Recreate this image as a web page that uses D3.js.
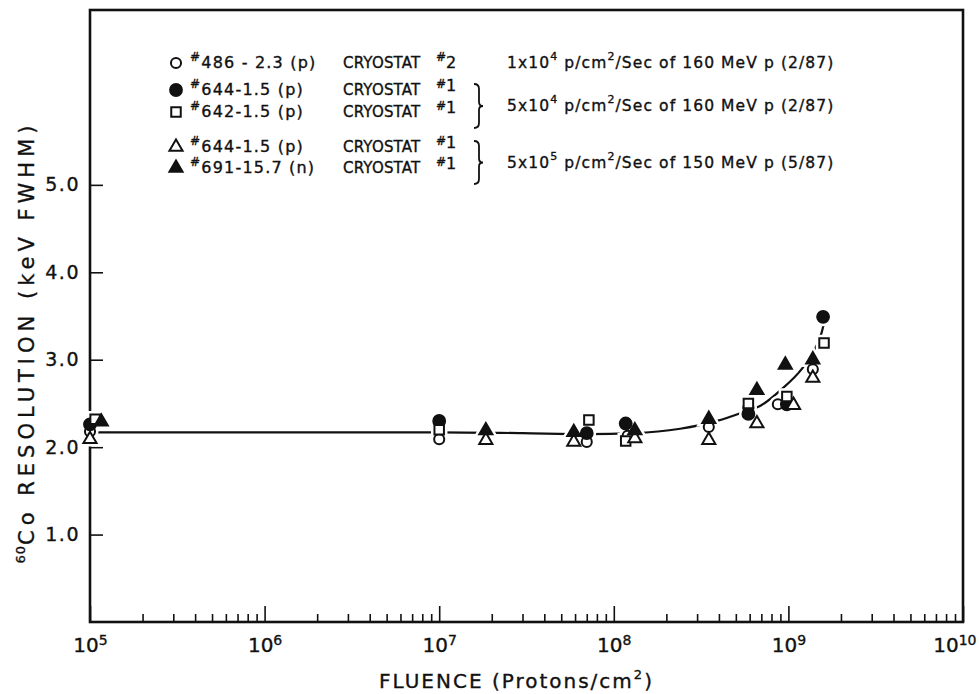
<!DOCTYPE html>
<html>
<head>
<meta charset="utf-8">
<script src="https://cdn.jsdelivr.net/npm/d3@7"></script>
<style>
  body { margin: 0; background: #fff; }
  text { font-family: "DejaVu Sans", sans-serif; fill: #111; stroke: #111; stroke-width: 0.35px; }
</style>
</head>
<body>
<div id="chart"></div>
<script>
// decades on the fluence axis and resolution ticks
const xDecades = [5, 6, 7, 8, 9, 10];
const yTickValues = [1, 2, 3, 4, 5];
const yTickLabels = ["1.0", "2.0", "3.0", "4.0", "5.0"];

// [fluence, resolution keV FWHM]
const det486 = [[1e5, 2.18], [1e7, 2.09], [7e7, 2.06], [1.2e8, 2.13], [3.5e8, 2.23], [5.9e8, 2.45], [8.7e8, 2.49], [1.38e9, 2.89]];
const det644a = [[1e5, 2.26], [1e7, 2.30], [7e7, 2.16], [1.17e8, 2.27], [5.9e8, 2.38], [9.8e8, 2.49], [1.58e9, 3.49]];
const det642 = [[1.07e5, 2.32], [1e7, 2.20], [7.2e7, 2.31], [1.17e8, 2.07], [5.9e8, 2.50], [9.8e8, 2.58], [1.6e9, 3.19]];
const det644b = [[1e5, 2.09], [1.85e7, 2.08], [5.9e7, 2.06], [1.32e8, 2.10], [3.5e8, 2.08], [6.6e8, 2.27], [1.07e9, 2.48], [1.38e9, 2.79]];
const det691 = [[1.16e5, 2.29], [1.85e7, 2.19], [5.9e7, 2.17], [1.32e8, 2.19], [3.5e8, 2.32], [6.6e8, 2.65], [9.6e8, 2.94], [1.38e9, 3.00]];

// hand drawn trend line
const trend = [[1e5, 2.17], [1e7, 2.17], [3e7, 2.16], [7e7, 2.15], [1.3e8, 2.16], [2.4e8, 2.21], [3.9e8, 2.30],
               [5.5e8, 2.40], [7e8, 2.48], [9e8, 2.65], [1.2e9, 2.90], [1.4e9, 3.10], [1.55e9, 3.31], [1.6e9, 3.42]];

const legendIds = ["486 - 2.3 (p)", "644-1.5  (p)", "642-1.5  (p)", "644-1.5  (p)", "691-15.7  (n)"];
const legendCryostat = ["2", "1", "1", "1", "1"];
const fluxMantissa = ["1x10", "5x10", "5x10"];
const fluxExponent = ["4", "4", "5"];
const fluxRest = ["160 MeV p (2/87)", "160 MeV p (2/87)", "150 MeV p (5/87)"];

const series = [
  { data: det486, shape: "circle", filled: false },
  { data: det644a, shape: "circle", filled: true },
  { data: det642, shape: "square", filled: false },
  { data: det644b, shape: "triangle", filled: false },
  { data: det691, shape: "triangle", filled: true }
];

const W = 979, H = 694;
const margin = { top: 10, right: 16, bottom: 72, left: 90 };
const width = W - margin.left - margin.right;
const height = H - margin.top - margin.bottom;

const svg = d3.select("#chart").append("svg")
  .attr("width", W).attr("height", H);
const g = svg.append("g").attr("transform", `translate(${margin.left},${margin.top})`);

const x = d3.scaleLog().domain([1e5, 1e10]).range([0, width]);
const y = d3.scaleLinear().domain([0, 7]).range([height, 0]);

// minor ticks
const minor = [];
xDecades.slice(0, -1).forEach(e => { for (let k = 2; k <= 9; k++) minor.push(k * Math.pow(10, e)); });
g.append("g")
  .attr("transform", `translate(0,${height})`)
  .call(d3.axisBottom(x).tickValues(minor).tickSize(-8).tickFormat(""))
  .call(a => a.select(".domain").remove())
  .call(a => a.selectAll("line").attr("stroke", "#111").attr("stroke-width", 1.6));

// major ticks with 10^n labels
const xAxis = g.append("g")
  .attr("transform", `translate(0,${height})`)
  .call(d3.axisBottom(x).tickValues(xDecades.map(e => Math.pow(10, e))).tickSize(-16).tickPadding(16));
xAxis.select(".domain").remove();
xAxis.selectAll("line").attr("stroke", "#111").attr("stroke-width", 1.6);
xAxis.selectAll("text")
  .attr("font-size", 20)
  .attr("font-family", "DejaVu Sans")
  .attr("fill", "#111")
  .each(function(d, i, nodes) {
    const t = d3.select(this).text(null);
    if (i === nodes.length - 1) t.attr("text-anchor", "end").attr("x", 13);
    t.append("tspan").text("10");
    t.append("tspan").attr("dy", "-0.55em").attr("font-size", 14).text(Math.round(Math.log10(d)));
  });

const yAxis = g.append("g")
  .call(d3.axisLeft(y).tickValues(yTickValues).tickSize(-13).tickPadding(10)
    .tickFormat((d, i) => yTickLabels[i]));
yAxis.select(".domain").remove();
yAxis.selectAll("line").attr("stroke", "#111").attr("stroke-width", 1.6);
yAxis.selectAll("text").attr("font-size", 19).attr("letter-spacing", 1.5)
  .attr("font-family", "DejaVu Sans").attr("fill", "#111");

// frame
g.append("rect")
  .attr("width", width).attr("height", height)
  .attr("fill", "none").attr("stroke", "#111").attr("stroke-width", 2.6);

// trend curve
const line = d3.line()
  .x(d => x(d[0]))
  .y(d => y(d[1]))
  .curve(d3.curveMonotoneX);
g.append("path")
  .datum(trend)
  .attr("fill", "none")
  .attr("stroke", "#111")
  .attr("stroke-width", 2.2)
  .attr("d", line);

function symbolPath(shape, filled) {
  if (shape === "circle") return d3.symbol(d3.symbolCircle, filled ? 110 : 80)();
  if (shape === "square") return d3.symbol(d3.symbolSquare, 90)();
  return d3.symbol(d3.symbolTriangle, 75)();
}

// white halo so the curve breaks around markers
series.forEach(s => {
  g.selectAll(null).data(s.data).enter().append("path")
    .attr("transform", d => `translate(${x(d[0])},${y(d[1])})`)
    .attr("d", symbolPath(s.shape, s.filled))
    .attr("fill", "#fff").attr("stroke", "#fff").attr("stroke-width", 7);
});
series.forEach(s => {
  g.selectAll(null).data(s.data).enter().append("path")
    .attr("transform", d => `translate(${x(d[0])},${y(d[1])})`)
    .attr("d", symbolPath(s.shape, s.filled))
    .attr("fill", s.filled ? "#111" : "#fff")
    .attr("stroke", "#111").attr("stroke-width", 2);
});

// legend
const legendRowY = [68, 95, 117, 152, 173];
const legend = svg.append("g");
series.forEach((s, i) => {
  const ry = legendRowY[i];
  legend.append("path")
    .attr("transform", `translate(176,${ry - 5})`)
    .attr("d", symbolPath(s.shape, s.filled))
    .attr("fill", s.filled ? "#111" : "#fff")
    .attr("stroke", "#111").attr("stroke-width", 2);
  const t = legend.append("text")
    .attr("x", 190).attr("y", ry)
    .attr("font-size", 16).attr("letter-spacing", 1.2);
  t.append("tspan").attr("dy", -7).attr("font-size", 12).text("#");
  t.append("tspan").attr("dy", 7).text(legendIds[i]);
  legend.append("text")
    .attr("x", 343).attr("y", ry)
    .attr("font-size", 15).attr("letter-spacing", 0.2)
    .text("CRYOSTAT");
  const c = legend.append("text")
    .attr("x", 436).attr("y", ry)
    .attr("font-size", 16);
  c.append("tspan").attr("dy", -7).attr("font-size", 12).text("#");
  c.append("tspan").attr("dy", i === 0 ? 7 : 3).text(legendCryostat[i]);
});

// braces
function brace(x0, y0, y1) {
  const m = (y0 + y1) / 2;
  return `M${x0},${y0} Q${x0 + 5},${y0} ${x0 + 5},${y0 + 5} L${x0 + 5},${m - 4} Q${x0 + 5},${m} ${x0 + 9},${m}` +
         ` Q${x0 + 5},${m} ${x0 + 5},${m + 4} L${x0 + 5},${y1 - 5} Q${x0 + 5},${y1} ${x0},${y1}`;
}
[[84, 128], [141, 184]].forEach(b => {
  legend.append("path").attr("d", brace(474, b[0], b[1]))
    .attr("fill", "none").attr("stroke", "#111").attr("stroke-width", 1.8);
});

const fluxY = [68, 111, 168];
fluxMantissa.forEach((m, i) => {
  const t = legend.append("text")
    .attr("x", 507).attr("y", fluxY[i])
    .attr("font-size", 15.5).attr("letter-spacing", 1.1);
  t.append("tspan").text(m);
  t.append("tspan").attr("dy", -8).attr("font-size", 11).text(fluxExponent[i]);
  t.append("tspan").attr("dy", 8).text("  p/cm");
  t.append("tspan").attr("dy", -8).attr("font-size", 11).text("2");
  t.append("tspan").attr("dy", 8).text("/Sec of " + fluxRest[i]);
});

// axis titles
const xt = svg.append("text")
  .attr("x", margin.left + width / 2 - 10).attr("y", 688)
  .attr("text-anchor", "middle").attr("font-size", 20).attr("letter-spacing", 2);
xt.append("tspan").text("FLUENCE (Protons/cm");
xt.append("tspan").attr("dy", -9).attr("font-size", 13).text("2");
xt.append("tspan").attr("dy", 9).text(")");

const yt = svg.append("text")
  .attr("transform", "translate(34,342) rotate(-90)")
  .attr("text-anchor", "middle").attr("font-size", 21).attr("letter-spacing", 5);
yt.append("tspan").attr("dy", -9).attr("font-size", 13).attr("letter-spacing", 1).text("60");
yt.append("tspan").attr("dy", 9).text("Co RESOLUTION (keV FWHM)");
</script>
</body>
</html>
